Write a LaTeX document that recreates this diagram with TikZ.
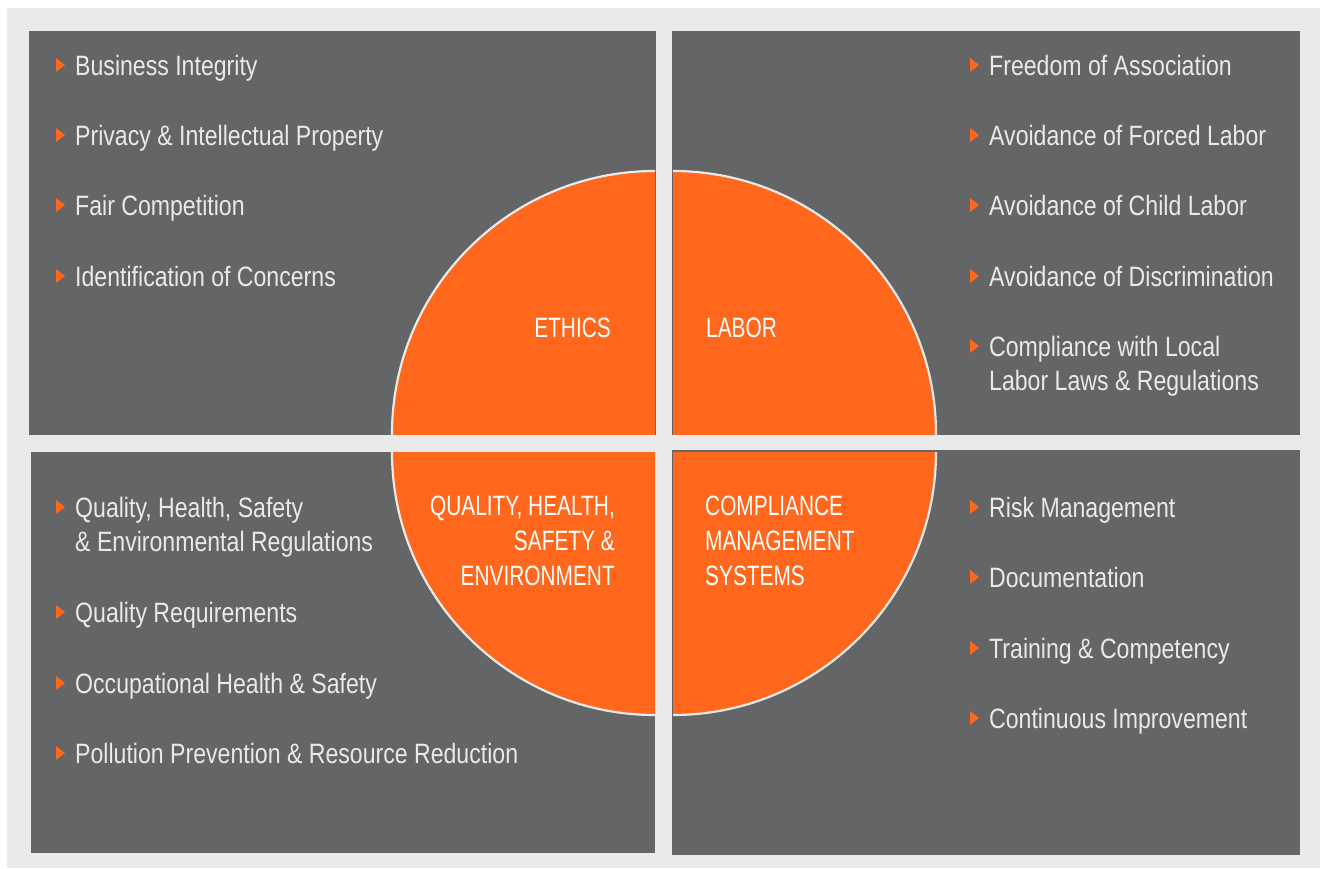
\documentclass[tikz,border=0pt]{standalone}
\usepackage{fontspec}
\setmainfont{Liberation Sans}[FakeStretch=0.825]
\newfontfamily\circfont{Liberation Sans}[FakeStretch=0.745]
\definecolor{bgc}{HTML}{EAEAEA}
\definecolor{panelc}{HTML}{646567}
\definecolor{orangec}{HTML}{FF671D}
\definecolor{txtc}{HTML}{E9E9E9}
\tikzset{
  itemtxt/.style={inner sep=0pt, anchor=base west, text=txtc, font=\fontsize{28}{34.5}\selectfont},
  circtxt/.style={inner sep=0pt, text=white, font=\circfont\fontsize{28}{35}\selectfont},
  bul/.style={fill=orangec},
  panel/.style={fill=panelc},
  quad/.style={fill=orangec},
  rim/.style={draw=bgc, line width=2.2pt}
}
\newcommand\bitem[4]{%
  \node[itemtxt] (#1) at (#2,#3) {\begin{tabular}[t]{@{}l@{}}#4\end{tabular}};
  \fill[bul] ([shift={(-19,-17)}]#1.base west) -- ([shift={(-19,-3)}]#1.base west) -- ([shift={(-10,-10)}]#1.base west) -- cycle;}
\begin{document}
\begin{tikzpicture}[x=1pt,y=-1pt]
\useasboundingbox (0,0) rectangle (1320,868);
\fill[white] (0,0) rectangle (1320,868);
\fill[bgc] (7,8) rectangle (1320,868);
% panels
\fill[panel] (29,31) rectangle (656,435);
\fill[panel] (672,31) rectangle (1300,435);
\fill[panel] (31,452) rectangle (655,853);
\fill[panel] (672,450) rectangle (1300,855);
% quadrants
\begin{scope}
  \clip (300,100) rectangle (655,434);
  \fill[quad] (655,434) circle[radius=263];
  \draw[rim] (655,434) circle[radius=263];
\end{scope}
\begin{scope}
  \clip (673,100) rectangle (1000,434);
  \fill[quad] (673,434) circle[radius=263];
  \draw[rim] (673,434) circle[radius=263];
\end{scope}
\begin{scope}
  \clip (300,452) rectangle (655,800);
  \fill[quad] (655,452) circle[radius=263];
  \draw[rim] (655,452) circle[radius=263];
\end{scope}
\begin{scope}
  \clip (673,452) rectangle (1000,800);
  \fill[quad] (673,452) circle[radius=263];
  \draw[rim] (673,452) circle[radius=263];
\end{scope}
% circle labels
\node[circtxt, anchor=base east] (ethics) at (611,337) {ETHICS};
\node[circtxt, anchor=base west] (labor) at (706,337) {LABOR};
\node[circtxt, anchor=base east] (qhse) at (615,515) {\begin{tabular}[t]{@{}r@{}}QUALITY, HEALTH,\\ SAFETY \&\\ ENVIRONMENT\end{tabular}};
\node[circtxt, anchor=base west] (cms) at (705,515) {\begin{tabular}[t]{@{}l@{}}COMPLIANCE\\ MANAGEMENT\\ SYSTEMS\end{tabular}};
% ethics items
\bitem{e1}{75}{75}{Business Integrity}
\bitem{e2}{75}{145}{Privacy \& Intellectual Property}
\bitem{e3}{75}{215}{Fair Competition}
\bitem{e4}{75}{286}{Identification of Concerns}
% labor items
\bitem{l1}{989}{75}{Freedom of Association}
\bitem{l2}{989}{145}{Avoidance of Forced Labor}
\bitem{l3}{989}{215}{Avoidance of Child Labor}
\bitem{l4}{989}{286}{Avoidance of Discrimination}
\bitem{l5}{989}{356}{Compliance with Local\\ Labor Laws \& Regulations}
% qhse items
\bitem{q1}{75}{517}{Quality, Health, Safety\\ \& Environmental Regulations}
\bitem{q2}{75}{622}{Quality Requirements}
\bitem{q3}{75}{693}{Occupational Health \& Safety}
\bitem{q4}{75}{763}{Pollution Prevention \& Resource Reduction}
% cms items
\bitem{c1}{989}{517}{Risk Management}
\bitem{c2}{989}{587}{Documentation}
\bitem{c3}{989}{658}{Training \& Competency}
\bitem{c4}{989}{728}{Continuous Improvement}
\end{tikzpicture}
\end{document}
